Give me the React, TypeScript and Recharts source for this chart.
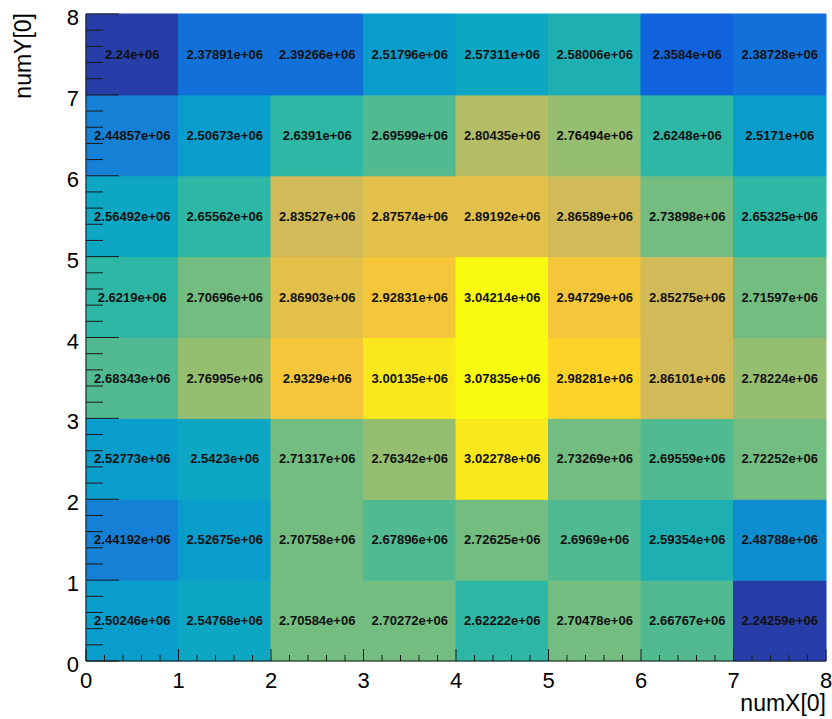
import React from 'react'
import { ScatterChart, Scatter, XAxis, YAxis, ReferenceArea } from 'recharts'

// bin low edges (each bin is 1 wide)
const xBins = [0, 1, 2, 3, 4, 5, 6, 7]
const yBins = [0, 1, 2, 3, 4, 5, 6, 7]

// bin contents per numY[0] row, left to right in numX[0]
const rowY0 = [2.50246e6, 2.54768e6, 2.70584e6, 2.70272e6, 2.62222e6, 2.70478e6, 2.66767e6, 2.24259e6]
const rowY1 = [2.44192e6, 2.52675e6, 2.70758e6, 2.67896e6, 2.72625e6, 2.6969e6, 2.59354e6, 2.48788e6]
const rowY2 = [2.52773e6, 2.5423e6, 2.71317e6, 2.76342e6, 3.02278e6, 2.73269e6, 2.69559e6, 2.72252e6]
const rowY3 = [2.68343e6, 2.76995e6, 2.9329e6, 3.00135e6, 3.07835e6, 2.98281e6, 2.86101e6, 2.78224e6]
const rowY4 = [2.6219e6, 2.70696e6, 2.86903e6, 2.92831e6, 3.04214e6, 2.94729e6, 2.85275e6, 2.71597e6]
const rowY5 = [2.56492e6, 2.65562e6, 2.83527e6, 2.87574e6, 2.89192e6, 2.86589e6, 2.73898e6, 2.65325e6]
const rowY6 = [2.44857e6, 2.50673e6, 2.6391e6, 2.69599e6, 2.80435e6, 2.76494e6, 2.6248e6, 2.5171e6]
const rowY7 = [2.24e6, 2.37891e6, 2.39266e6, 2.51796e6, 2.57311e6, 2.58006e6, 2.3584e6, 2.38728e6]
const rows = [rowY0, rowY1, rowY2, rowY3, rowY4, rowY5, rowY6, rowY7]

// axis ticks: majors at integers, 5 subdivisions
const axisTicks = Array.from({ length: 41 }, (_, i) => i / 5)

const FONT = '"Liberation Sans", Arial, Helvetica, sans-serif'

// ROOT kBird palette
const birdStops = [0, 0.125, 0.25, 0.375, 0.5, 0.625, 0.75, 0.875, 1]
const birdR = [0.2082, 0.0592, 0.078, 0.0232, 0.1802, 0.5301, 0.8186, 0.9956, 0.9764]
const birdG = [0.1664, 0.3599, 0.5041, 0.6419, 0.7178, 0.7492, 0.7328, 0.7862, 0.9832]
const birdB = [0.5293, 0.8684, 0.8385, 0.7914, 0.6425, 0.4662, 0.3499, 0.1968, 0.0539]

const bird = (t: number) => {
  let i = 0
  while (i < birdStops.length - 2 && t > birdStops[i + 1]) i++
  const f = (t - birdStops[i]) / (birdStops[i + 1] - birdStops[i])
  const c = (a: number[]) => Math.round(255 * (a[i] + f * (a[i + 1] - a[i])))
  return `rgb(${c(birdR)},${c(birdG)},${c(birdB)})`
}

const allValues = rows.flat()
const zMin = Math.min(...allValues)
const zMax = Math.max(...allValues)
const NCONT = 20
const NCOL = 255

const cellColor = (v: number) => {
  const level = Math.floor(0.01 + ((v - zMin) * NCONT) / (zMax - zMin))
  const idx = Math.min(NCOL - 1, Math.floor(((level + 0.99) * NCOL) / NCONT))
  return bird(idx / (NCOL - 1))
}

const fmt = (v: number) => {
  const [m, e] = v.toExponential(5).split('e')
  const mant = m.replace(/0+$/, '').replace(/\.$/, '')
  const sign = e[0] === '-' ? '-' : '+'
  const exp = e.replace(/^[+-]/, '').padStart(2, '0')
  return `${mant}e${sign}${exp}`
}

const centers = rows.flatMap((row, j) => row.map((_, i) => ({ x: xBins[i] + 0.5, y: yBins[j] + 0.5 })))

const YTick = ({ x, y, payload }: any) => {
  const major = Number.isInteger(payload.value)
  return (
    <g>
      <line x1={x} x2={x + (major ? 33 : 17)} y1={y} y2={y} stroke="#1a1a1a" strokeWidth={1} />
      {major && (
        <text x={x - 7} y={y + 11} textAnchor="end" fontSize={22} fontFamily={FONT} fill="#000">
          {payload.value}
        </text>
      )}
    </g>
  )
}

const XTick = ({ x, y, payload }: any) => {
  const major = Number.isInteger(payload.value)
  return (
    <g>
      <line x1={x} x2={x} y1={y} y2={y - (major ? 12 : 6)} stroke="#1a1a1a" strokeWidth={1} />
      {major && (
        <text x={x} y={y + 27} textAnchor="middle" fontSize={22} fontFamily={FONT} fill="#000">
          {payload.value}
        </text>
      )}
    </g>
  )
}

export default function App() {
  return (
    <div style={{ position: 'absolute', left: 0, top: 0, background: '#fff' }}>
      <ScatterChart width={832} height={719} margin={{ top: 14, right: 6, bottom: 0, left: 0 }}>
        {rows.map((row, j) =>
          row.map((v, i) => {
            const col = cellColor(v)
            return (
              <ReferenceArea
                key={`c${i}-${j}`}
                x1={xBins[i]}
                x2={xBins[i] + 1}
                y1={yBins[j]}
                y2={yBins[j] + 1}
                fill={col}
                fillOpacity={1}
                stroke={col}
                strokeWidth={1}
                ifOverflow="visible"
                label={{
                  value: fmt(v),
                  position: 'center',
                  fill: '#111',
                  fontSize: 13,
                  fontWeight: 'bold',
                  fontFamily: FONT
                }}
              />
            )
          })
        )}
        <Scatter data={centers} dataKey="y" isAnimationActive={false} shape={() => <g />} legendType="none" />
        <XAxis
          type="number"
          dataKey="x"
          domain={[0, 8]}
          ticks={axisTicks}
          interval={0}
          height={58}
          tickSize={0}
          tickMargin={0}
          tick={<XTick />}
          axisLine={{ stroke: '#1a1a1a' }}
          allowDataOverflow
          label={{
            content: ({ viewBox }: any) => (
              <text
                x={viewBox.x + viewBox.width}
                y={viewBox.y + 50}
                textAnchor="end"
                fontSize={23}
                fontFamily={FONT}
                fill="#000"
              >
                numX[0]
              </text>
            )
          }}
        />
        <YAxis
          type="number"
          dataKey="y"
          domain={[0, 8]}
          ticks={axisTicks}
          interval={0}
          width={86}
          tickSize={0}
          tickMargin={0}
          tick={<YTick />}
          axisLine={{ stroke: '#1a1a1a' }}
          allowDataOverflow
          label={{
            content: ({ viewBox }: any) => (
              <text
                x={31}
                y={viewBox.y - 1}
                transform={`rotate(-90, 31, ${viewBox.y - 1})`}
                textAnchor="end"
                fontSize={23}
                fontFamily={FONT}
                fill="#000"
              >
                numY[0]
              </text>
            )
          }}
        />
      </ScatterChart>
    </div>
  )
}
